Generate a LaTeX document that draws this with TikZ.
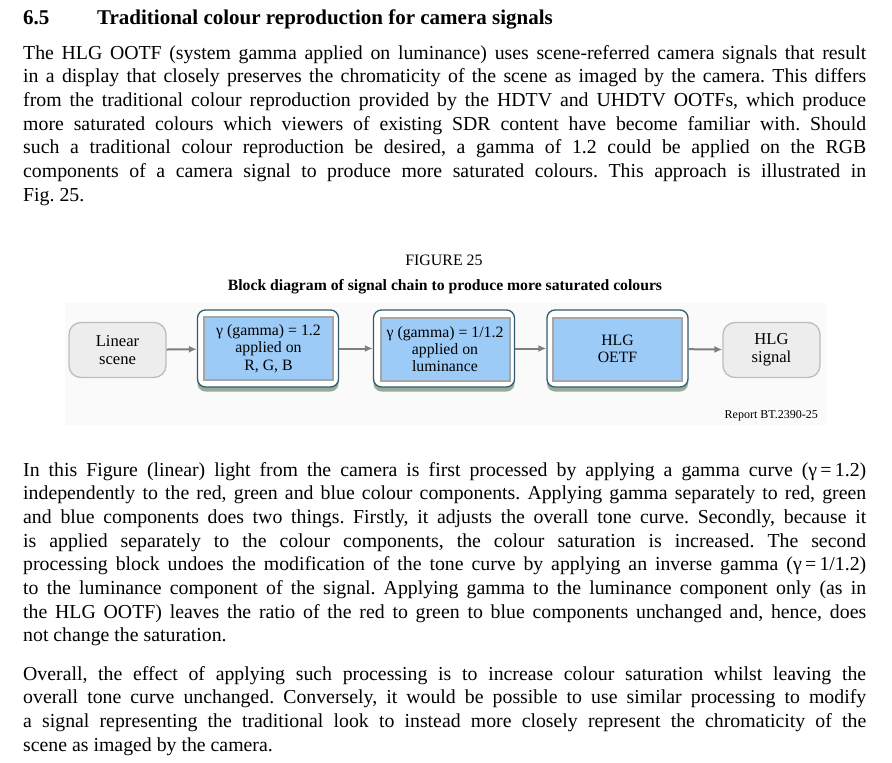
\documentclass[tikz,border=0pt]{standalone}
\usepackage{fontspec}
\setmainfont{Liberation Serif}[WordSpace={1,1.6,2.4}]
\usetikzlibrary{arrows.meta,shadows}
\frenchspacing
\definecolor{panelgray}{HTML}{FAFAFA}
\definecolor{endfill}{HTML}{EDEDED}
\definecolor{endline}{HTML}{BDBDBD}
\definecolor{stageline}{HTML}{2F5E70}
\definecolor{stageblue}{HTML}{9CCBF7}
\definecolor{innergray}{HTML}{A6A6A6}
\definecolor{flowgray}{HTML}{7F7F7F}
\definecolor{shadowgreen}{HTML}{3A5A40}
\def\jl#1{\hbox to 843pt{#1}}
\def\lastl#1{\hbox{#1}}
\tikzset{
  para/.style={anchor=base west, inner sep=0pt, font=\fontsize{19.8}{23.7}\selectfont},
  endbox/.style={draw=endline, fill=endfill, line width=1.3pt, rounded corners=12pt, minimum width=97pt, minimum height=55pt, align=center, font=\fontsize{16.6}{17.5}\selectfont},
  stagebox/.style={draw=stageline, fill=white, line width=1.3pt, rounded corners=8pt, minimum width=141pt, minimum height=77pt, drop shadow={shadow xshift=0pt, shadow yshift=-4.5pt, fill=shadowgreen, opacity=0.5}},
  stagein/.style={draw=innergray, fill=stageblue, line width=2pt, minimum width=129pt, minimum height=63pt, align=center, font=\fontsize{15.8}{17.3}\selectfont},
  flow/.style={-{Latex[length=8pt,width=7pt]}, draw=flowgray, line width=2pt},
}

\begin{document}
\begin{tikzpicture}[x=1pt,y=-1pt]
			%%%%% START %%%%%
			\useasboundingbox (0,0) rectangle (892,763);
			
			\node[anchor=base west, inner sep=0pt, font=\fontsize{21}{24}\selectfont\bfseries] (secno) at (23,24) {6.5};
			\node[anchor=base west, inner sep=0pt, font=\fontsize{21}{24}\selectfont\bfseries] (sectitle) at (97,24) {Traditional colour reproduction for camera signals};
			
			\node[para] (intro) at (23,59) {\vtop{%
				\jl{The HLG OOTF (system gamma applied on luminance) uses scene-referred camera signals that result}%
				\jl{in a display that closely preserves the chromaticity of the scene as imaged by the camera. This differs}%
				\jl{from the traditional colour reproduction provided by the HDTV and UHDTV OOTFs, which produce}%
				\jl{more saturated colours which viewers of existing SDR content have become familiar with. Should}%
				\jl{such a traditional colour reproduction be desired, a gamma of 1.2 could be applied on the RGB}%
				\jl{components of a camera signal to produce more saturated colours. This approach is illustrated in}%
				\lastl{Fig. 25.}}};
			
			\node[anchor=base, inner sep=0pt, font=\fontsize{15.9}{18}\selectfont] (fignum) at (444,265.5) {FIGURE 25};
			\node[anchor=base, inner sep=0pt, font=\fontsize{15.7}{18}\selectfont\bfseries] (figtitle) at (445,290) {Block diagram of signal chain to produce more saturated colours};
			
			\fill[panelgray] (65,303) rectangle (826,425);
			
			\node[endbox] (lin) at (117.5,350) {Linear\\scene};
			
			\node[stagebox] (rgb) at (268,348.5) {};
			\node[stagein] (rgbin) at (268.5,348.5) {γ (gamma) = 1.2\\applied on\\R, G, B};
			
			\node[stagebox] (luma) at (444,348.5) {};
			\node[stagein] (lumain) at (445,349) {γ (gamma) = 1/1.2\\applied on\\luminance};
			
			\node[stagebox] (oetf) at (617.5,348.5) {};
			\node[stagein] (oetfin) at (617.5,349) {HLG\\OETF};
			
			\node[endbox] (sig) at (771.5,350) {HLG\\signal};
			
			\draw[flow] (lin) -- (rgb);
			\draw[flow] (rgb) -- (luma);
			\draw[flow] (luma) -- (oetf);
			\draw[flow] (oetf) -- (sig);
			
			\node[anchor=base east, inner sep=0pt, font=\fontsize{12}{14}\selectfont] (report) at (818,418) {Report BT.2390-25};
			
			\node[para] (body) at (23,476) {\vtop{%
				\jl{In this Figure (linear) light from the camera is first processed by applying a gamma curve (γ\,=\,1.2)}%
				\jl{independently to the red, green and blue colour components. Applying gamma separately to red, green}%
				\jl{and blue components does two things. Firstly, it adjusts the overall tone curve. Secondly, because it}%
				\jl{is applied separately to the colour components, the colour saturation is increased. The second}%
				\jl{processing block undoes the modification of the tone curve by applying an inverse gamma (γ\,=\,1/1.2)}%
				\jl{to the luminance component of the signal. Applying gamma to the luminance component only (as in}%
				\jl{the HLG OOTF) leaves the ratio of the red to green to blue components unchanged and, hence, does}%
				\lastl{not change the saturation.}}};
			
			\node[para] (outro) at (23,680) {\vtop{%
				\jl{Overall, the effect of applying such processing is to increase colour saturation whilst leaving the}%
				\jl{overall tone curve unchanged. Conversely, it would be possible to use similar processing to modify}%
				\jl{a signal representing the traditional look to instead more closely represent the chromaticity of the}%
				\lastl{scene as imaged by the camera.}}};
			
			%%%%% END %%%%%
\end{tikzpicture}
\end{document}
